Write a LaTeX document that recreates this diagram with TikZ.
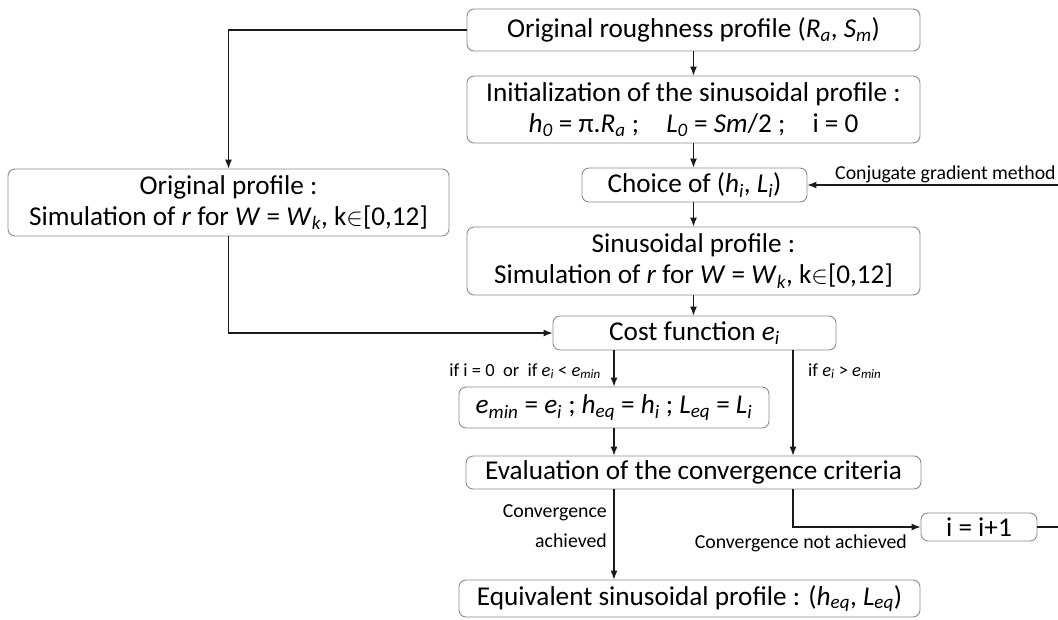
\documentclass[tikz,border=0pt]{standalone}
\usepackage{fontspec}
\setmainfont{Carlito}
\usetikzlibrary{arrows.meta,calc}
\definecolor{boxgray}{HTML}{8C8C8C}
\definecolor{linec}{HTML}{1A1A1A}
\newcommand{\sbi}[1]{\textsubscript{\textit{#1}}}
\newcommand{\vi}[1]{\textit{#1}}
\begin{document}
\begin{tikzpicture}[x=1pt,y=-1pt,
 box/.style={draw=boxgray,line width=0.9pt,rounded corners=7pt,inner sep=0pt,align=center,font=\fontsize{27.2}{31}\selectfont,text=black},
 arr/.style={draw=linec,line width=1.1pt,-{Latex[length=9pt,width=7pt]}},
 ln/.style={draw=linec,line width=1.1pt},
 lab/.style={inner sep=0pt,font=\fontsize{19.8}{22}\selectfont},
 slab/.style={inner sep=0pt,font=\fontsize{18.5}{20}\selectfont}]
\useasboundingbox (0,0) rectangle (1058,619);
\fill[white] (0,0) rectangle (1058,619);

\node[box,minimum width=453pt,minimum height=42pt] (n1) at (693.5,30) {Original roughness profile (\vi{R}\sbi{a}, \vi{S}\sbi{m})};
\node[box,minimum width=453pt,minimum height=67pt] (n2) at (693.5,109.5) {Initialization of the sinusoidal profile :\\ \vi{h}\sbi{0} = π.\vi{R}\sbi{a} ;\quad \vi{L}\sbi{0} = \vi{Sm}/2 ;\quad i = 0};
\node[box,minimum width=225pt,minimum height=34pt] (n3) at (694.5,185) {Choice of (\vi{h}\sbi{i}, \vi{L}\sbi{i})};
\node[box,minimum width=441pt,minimum height=67pt] (n4) at (228.5,202.5) {Original profile :\\ Simulation of \vi{r} for \vi{W} = \vi{W}\sbi{k}, k$\in$[0,12]};
\node[box,minimum width=453pt,minimum height=68pt] (n5) at (693.5,261) {Sinusoidal profile :\\ Simulation of \vi{r} for \vi{W} = \vi{W}\sbi{k}, k$\in$[0,12]};
\node[box,minimum width=283pt,minimum height=34pt] (n6) at (694.5,333) {Cost function \vi{e}\sbi{i}};
\node[box,minimum width=310pt,minimum height=41pt] (n7) at (614,407.5) {\vi{e}\sbi{min} = \vi{e}\sbi{i} ; \vi{h}\sbi{eq} = \vi{h}\sbi{i} ; \vi{L}\sbi{eq} = \vi{L}\sbi{i}};
\node[box,minimum width=455pt,minimum height=33pt] (n8) at (693.5,472.5) {Evaluation of the convergence criteria};
\node[box,minimum width=116pt,minimum height=28pt] (n9) at (979,527) {i = i+1};
\node[box,minimum width=461pt,minimum height=37pt] (n10) at (689.5,598.5) {Equivalent sinusoidal profile : (\vi{h}\sbi{eq}, \vi{L}\sbi{eq})};

\coordinate (cg) at (1058,185);
\coordinate (ce) at (1058,527);
\coordinate (xr) at (793,0);

% connectors
\draw[arr] (n1.west) -| (n4.north);
\draw[arr] (n1.south) -- (n1.south |- n2.north);
\draw[arr] (n2.south) -- (n2.south |- n3.north);
\draw[arr] (n3.south -| n5.north) -- (n5.north);
\draw[arr] (n5.south) -- (n5.south |- n6.north);
\draw[arr] (cg) -- (n3.east);
\draw[arr] (n4.south) |- (n6.west);
\draw[arr] (n6.south -| n7.north) -- (n7.north);
\draw[arr] (n6.south -| xr) -- (n8.north -| xr);
\draw[arr] (n7.south) -- (n7.south |- n8.north);
\draw[arr] (n8.south -| n7.south) -- (n10.north -| n7.south);
\draw[arr] (n8.south -| xr) |- (n9.west);
\draw[ln] (n9.east) -- (ce);

% labels
\node[lab,anchor=base west] (lcg) at (835,179) {Conjugate gradient method};
\node[slab,anchor=base east] (lif1) at (601,376) {if i = 0\ \ or\ \ if \vi{e}\sbi{i} < \vi{e}\sbi{min}};
\node[slab,anchor=base west] (lif2) at (808,376) {if \vi{e}\sbi{i} > \vi{e}\sbi{min}};
\node[lab,anchor=base east] (lca) at (607,517) {Convergence};
\node[lab,anchor=base east] (lcb) at (607,547) {achieved};
\node[lab,anchor=base east] (lcn) at (907,548) {Convergence not achieved};
\end{tikzpicture}
\end{document}
